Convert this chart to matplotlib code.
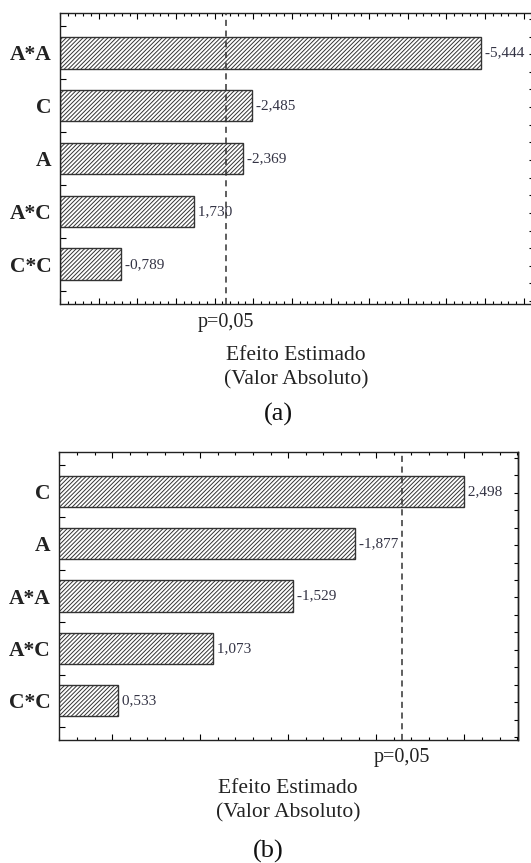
import numpy as np
import matplotlib
matplotlib.use("Agg")
import matplotlib.pyplot as plt
from matplotlib.ticker import MultipleLocator, FixedLocator, NullFormatter
from matplotlib import transforms

plt.rcParams["font.family"] = ["Liberation Serif", "DejaVu Serif"]
plt.rcParams["hatch.linewidth"] = 0.7
plt.rcParams["hatch.color"] = "#333333"

# panel (a)
terms_a = ["A*A", "C", "A", "A*C", "C*C"]
effects_a = [-5.444, -2.485, -2.369, 1.730, -0.789]
# panel (b)
terms_b = ["C", "A", "A*A", "A*C", "C*C"]
effects_b = [2.498, -1.877, -1.529, 1.073, 0.533]

p_crit = 2.145
xlim_a = (0.0, 6.12)
xlim_b = (0.198, 2.805)

W, H = 531, 863


def pareto(ax, terms, effects, xlim):
    y = np.arange(len(terms))
    vals = np.abs(effects)
    ax.barh(y, vals, height=0.6, color="white", edgecolor="#333333",
            linewidth=1.0, hatch="////////", zorder=2)
    for yi, v, e in zip(y, vals, effects):
        ax.text(v, yi, " " + f"{e:.3f}".replace(".", ","), va="center", ha="left",
                fontsize=11, color="#333344", zorder=3)
    ax.axvline(p_crit, color="#333333", linestyle=(0, (4, 3)), linewidth=1.1, zorder=3)
    ax.set_xlim(*xlim)
    ax.set_ylim(len(terms) - 0.25, -0.75)

    ax.set_yticks(y)
    ax.set_yticklabels(terms, fontsize=15.5, fontweight="bold", color="#222222")
    ax.yaxis.set_minor_locator(FixedLocator(np.arange(-0.5, len(terms), 1.0)))
    ax.tick_params(axis="y", which="major", length=0, pad=6)
    ax.tick_params(axis="y", which="minor", direction="in", length=4, width=0.8,
                   left=True, right=False)

    ax.xaxis.set_major_locator(MultipleLocator(0.5))
    ax.xaxis.set_minor_locator(MultipleLocator(0.1))
    ax.xaxis.set_major_formatter(NullFormatter())
    ax.tick_params(axis="x", which="major", direction="in", length=4, width=0.8,
                   top=True, bottom=True)
    ax.tick_params(axis="x", which="minor", direction="in", length=2.5, width=0.8,
                   top=True, bottom=True)

    sec = ax.secondary_yaxis("right")
    sec.set_yticks(np.arange(-0.75 + 1 / 9, len(terms) - 0.25, 1 / 3))
    sec.set_yticklabels([])
    sec.tick_params(direction="in", length=3, width=0.8)
    sec.spines["right"].set_linewidth(1.0)

    for s in ax.spines.values():
        s.set_linewidth(1.0)
        s.set_color("#222222")

    tr = transforms.blended_transform_factory(ax.transData, ax.transAxes)
    ax.text(p_crit, -0.062, "p=0,05", transform=tr, ha="center", va="center",
            fontsize=14.5, color="#222222")


fig = plt.figure(figsize=(W / 100, H / 100), dpi=100)
ax_a = fig.add_axes([60 / W, 1 - 304 / H, (533 - 60) / W, (304 - 13) / H])
ax_b = fig.add_axes([59 / W, 1 - 740 / H, (518 - 59) / W, (740 - 452) / H])

pareto(ax_a, terms_a, effects_a, xlim_a)
pareto(ax_b, terms_b, effects_b, xlim_b)

fig.text(296 / W, 1 - 355 / H, "Efeito Estimado", ha="center", va="center", fontsize=15.5, color="#222222")
fig.text(296 / W, 1 - 380 / H, "(Valor Absoluto)", ha="center", va="center", fontsize=15.5, color="#222222")
fig.text(278 / W, 1 - 414 / H, "(a)", ha="center", va="center", fontsize=19, color="#111111")

fig.text(288 / W, 1 - 788 / H, "Efeito Estimado", ha="center", va="center", fontsize=15.5, color="#222222")
fig.text(288 / W, 1 - 813 / H, "(Valor Absoluto)", ha="center", va="center", fontsize=15.5, color="#222222")
fig.text(268 / W, 1 - 851 / H, "(b)", ha="center", va="center", fontsize=19, color="#111111")

fig.savefig("out.png", dpi=100)
